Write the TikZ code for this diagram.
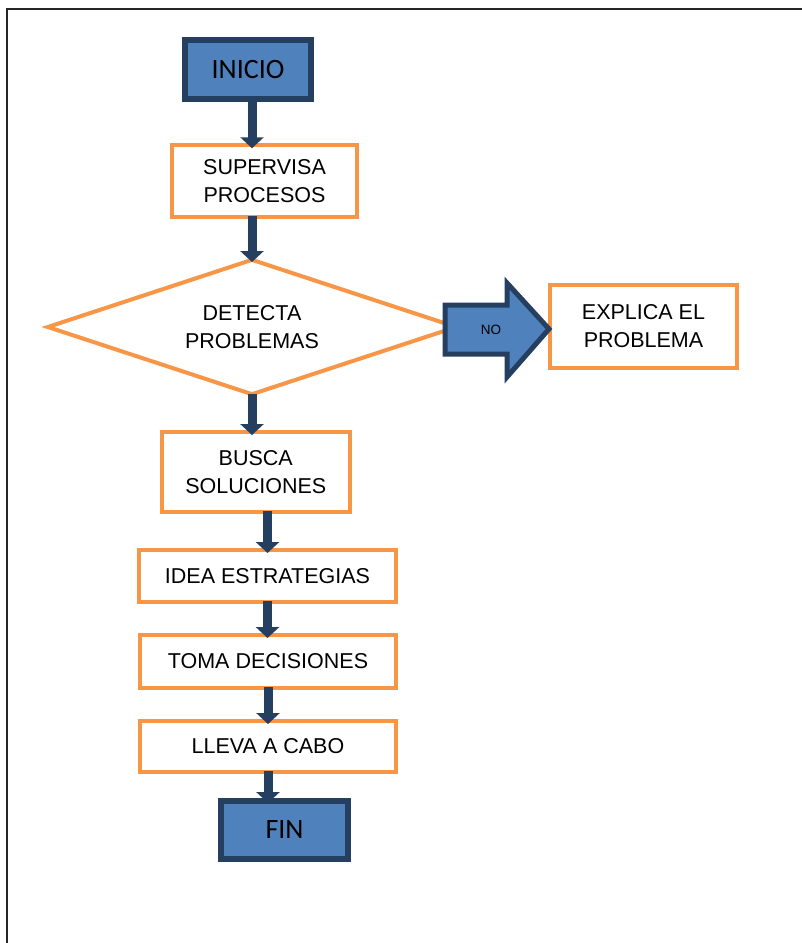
\documentclass[tikz,border=0pt]{standalone}
\usepackage{fontspec}
\setmainfont{Liberation Sans}
\newfontfamily\calfont{Carlito}
\usetikzlibrary{shapes.geometric,arrows.meta}
\definecolor{boxblue}{HTML}{4F81BD}
\definecolor{darkblue}{HTML}{243F60}
\definecolor{boxorange}{HTML}{F79646}

\begin{document}
\begin{tikzpicture}
  [x=1pt, y=-1pt,
   proc/.style={rectangle, draw=boxorange, line width=4pt, fill=white, align=center,
     inner sep=0pt, font=\fontsize{21.5}{28}\selectfont},
   term/.style={rectangle, draw=darkblue, line width=6pt, fill=boxblue, inner sep=0pt,
     font=\calfont\fontsize{28}{32}\selectfont},
   decision/.style={diamond, draw=boxorange, line width=4pt, fill=white, align=center,
     inner sep=0pt, shape aspect=3.015, minimum width=410pt, minimum height=136pt,
     font=\fontsize{21.5}{28}\selectfont},
   flow/.style={draw=darkblue, line width=9pt, -{Triangle[width=23pt,length=11pt]},
     shorten >=-5pt, shorten <=-3pt}]
  \useasboundingbox (0,0) rectangle (802,943);
  % page frame, only the top and left edges show
  \draw[line width=2pt, black!85] (7,943) -- (7,9) -- (802,9);
  % main column
  \node[term, minimum width=126pt, minimum height=59pt] (inicio) at (248,69.5) {INICIO};
  \node[proc, minimum width=185pt, minimum height=71.5pt] (supervisa) at (264.5,181) {SUPERVISA\\PROCESOS};
  \node[decision] (detecta) at (252,327) {DETECTA\\PROBLEMAS};
  \node[proc, minimum width=187.5pt, minimum height=80pt] (busca) at (255.75,472) {BUSCA\\SOLUCIONES};
  \node[proc, minimum width=257pt, minimum height=52pt] (idea) at (267.5,576) {IDEA ESTRATEGIAS};
  \node[proc, minimum width=256pt, minimum height=53pt] (toma) at (268,661.5) {TOMA DECISIONES};
  \node[proc, minimum width=256pt, minimum height=51pt] (lleva) at (268,746.5) {LLEVA A CABO};
  \node[term, minimum width=127pt, minimum height=58pt] (fin) at (284.5,830) {FIN};
  % the NO branch
  \node[proc, minimum width=187pt, minimum height=83pt] (explica) at (643.5,326.5) {EXPLICA EL\\PROBLEMA};
  \draw[draw=darkblue, fill=boxblue, line width=5pt, line join=miter]
    (445,305) -- (507,305) -- (507,283) -- (549,329) -- (507,377) -- (507,354) -- (445,354) -- cycle;
  \node[font=\fontsize{13.5}{16}\selectfont] (no) at (491,330) {NO};
  % arrows
  \draw[flow] (inicio.south -| detecta.north) -- (supervisa.north -| detecta.north);
  \draw[flow] (supervisa.south -| detecta.north) -- (detecta.north);
  \draw[flow] (detecta.south) -- (busca.north -| detecta.south);
  \draw[flow] (busca.south -| idea.north) -- (idea.north);
  \draw[flow] (idea.south) -- (toma.north -| idea.south);
  \draw[flow] (toma.south) -- (lleva.north);
  \draw[flow] (lleva.south) -- (lleva.south |- fin.north);
\end{tikzpicture}
\end{document}
